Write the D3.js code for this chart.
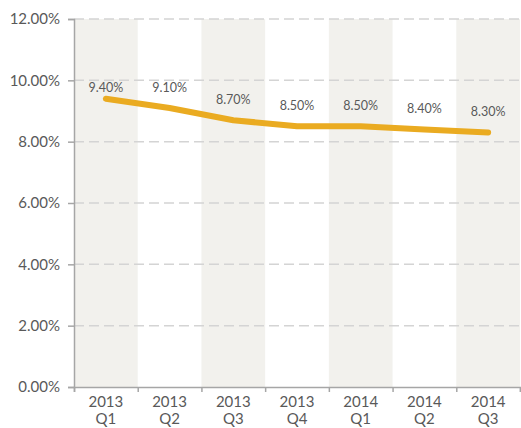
<!DOCTYPE html>
<html>
<head>
<meta charset="utf-8">
<script src="https://cdn.jsdelivr.net/npm/d3@7"></script>
<style>
  body { margin: 0; background: #fff; }
  text { font-family: "Lato", "Open Sans", sans-serif; fill: #595959; }
</style>
</head>
<body>
<div id="chart"></div>
<script>
const years = ["2013", "2013", "2013", "2013", "2014", "2014", "2014"];
const quarters = ["Q1", "Q2", "Q3", "Q4", "Q1", "Q2", "Q3"];
const rates = [9.4, 9.1, 8.7, 8.5, 8.5, 8.4, 8.3];
const yTicks = [0, 2, 4, 6, 8, 10, 12];

const W = 521, H = 428;
const margin = {top: 19, right: 1, bottom: 41, left: 74};
const width = W - margin.left - margin.right;
const height = H - margin.top - margin.bottom;

const svg = d3.select("#chart").append("svg")
    .attr("width", W).attr("height", H);
const g = svg.append("g")
    .attr("transform", "translate(" + margin.left + "," + margin.top + ")");

const idx = d3.range(rates.length);
const x = d3.scaleBand().domain(idx).range([0, width]);
const y = d3.scaleLinear().domain([0, 12]).range([height, 0]);

// alternating bands
g.selectAll(".band")
  .data(idx.filter(i => i % 2 === 0))
  .join("rect")
  .attr("x", i => x(i))
  .attr("y", 0)
  .attr("width", x.bandwidth())
  .attr("height", height)
  .attr("fill", "#f2f1ed");

// gridlines
g.selectAll(".grid")
  .data(yTicks.filter(t => t > 0))
  .join("line")
  .attr("x1", 0).attr("x2", width)
  .attr("y1", d => y(d)).attr("y2", d => y(d))
  .attr("stroke", "#d4d4d4")
  .attr("stroke-width", 1.5)
  .attr("stroke-dasharray", "10,5");

// y axis
const yAxis = g.append("g")
  .call(d3.axisLeft(y).tickValues(yTicks).tickSize(6).tickPadding(8)
        .tickFormat(d => d.toFixed(2) + "%"));
yAxis.select(".domain").attr("stroke", "#a6a6a6").attr("stroke-width", 1.5);
yAxis.selectAll(".tick line").attr("stroke", "#a6a6a6").attr("stroke-width", 1.5);
yAxis.selectAll(".tick text").style("font-size", "15px").attr("fill", "#595959");

// x axis
const xb = d3.scaleLinear().domain([0, rates.length]).range([0, width]);
const xAxis = g.append("g")
  .attr("transform", "translate(0," + height + ")")
  .call(d3.axisBottom(xb).ticks(rates.length).tickSize(5).tickFormat(""));
xAxis.select(".domain").attr("stroke", "#a6a6a6").attr("stroke-width", 1.5);
xAxis.selectAll(".tick line").attr("stroke", "#a6a6a6").attr("stroke-width", 1.5);

const cats = g.append("g").selectAll("text")
  .data(idx)
  .join("text")
  .attr("text-anchor", "middle")
  .attr("x", i => x(i) + x.bandwidth() / 2)
  .attr("y", height + 20)
  .style("font-size", "15px");
cats.append("tspan").attr("x", i => x(i) + x.bandwidth() / 2).text(i => years[i]);
cats.append("tspan").attr("x", i => x(i) + x.bandwidth() / 2).attr("dy", 17).text(i => quarters[i]);

// line
const line = d3.line()
  .x(i => x(i) + x.bandwidth() / 2)
  .y(i => y(rates[i]));
g.append("path")
  .datum(idx)
  .attr("d", line)
  .attr("fill", "none")
  .attr("stroke", "#eaab21")
  .attr("stroke-width", 6)
  .attr("stroke-linecap", "round")
  .attr("stroke-linejoin", "round");

// data labels
g.selectAll(".lbl")
  .data(idx)
  .join("text")
  .attr("text-anchor", "middle")
  .attr("x", i => x(i) + x.bandwidth() / 2)
  .attr("y", i => Math.max(y(rates[i]) - 16, y(10) + 12))
  .style("font-size", "12.5px")
  .text(i => rates[i].toFixed(2) + "%");
</script>
</body>
</html>
